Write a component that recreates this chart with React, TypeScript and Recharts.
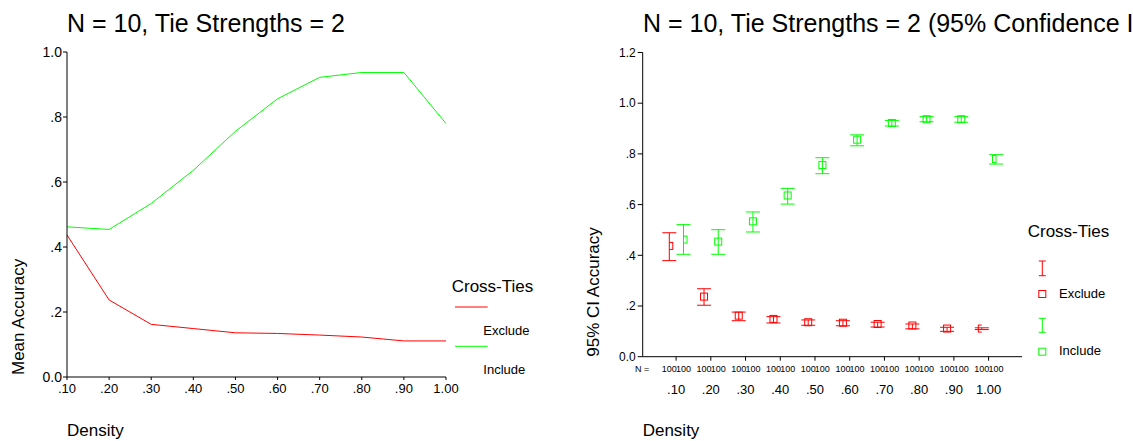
import React from 'react';
import { LineChart, Line, XAxis, YAxis, ScatterChart, Scatter, ErrorBar } from 'recharts';

const DENSITY = [0.1, 0.2, 0.3, 0.4, 0.5, 0.6, 0.7, 0.8, 0.9, 1.0];
const DENSITY_LABELS = ['.10', '.20', '.30', '.40', '.50', '.60', '.70', '.80', '.90', '1.00'];
const EXCLUDE_MEAN = [0.437, 0.237, 0.162, 0.149, 0.136, 0.134, 0.129, 0.123, 0.111, 0.111];
const INCLUDE_MEAN = [0.462, 0.454, 0.534, 0.636, 0.756, 0.856, 0.922, 0.937, 0.937, 0.78];
const EXCLUDE_LOW = [0.379, 0.203, 0.142, 0.133, 0.124, 0.122, 0.117, 0.11, 0.1, 0.107];
const EXCLUDE_HIGH = [0.489, 0.268, 0.176, 0.158, 0.145, 0.142, 0.136, 0.129, 0.116, 0.114];
const INCLUDE_LOW = [0.404, 0.404, 0.492, 0.602, 0.722, 0.832, 0.91, 0.927, 0.925, 0.76];
const INCLUDE_HIGH = [0.521, 0.501, 0.571, 0.664, 0.785, 0.875, 0.932, 0.947, 0.947, 0.797];
const N_EXCLUDE = [100, 100, 100, 100, 100, 100, 100, 100, 100, 100];
const N_INCLUDE = [100, 100, 100, 100, 100, 100, 100, 100, 100, 100];
const LEFT_Y_TICKS = [0, 0.2, 0.4, 0.6, 0.8, 1.0];
const RIGHT_Y_TICKS = [0, 0.2, 0.4, 0.6, 0.8, 1.0, 1.2];
const SERIES_NAMES = ['Exclude', 'Include'];
const LEGEND_TITLE = 'Cross-Ties';
const LEFT_TITLE = 'N = 10, Tie Strengths = 2';
const RIGHT_TITLE = 'N = 10, Tie Strengths = 2 (95% Confidence Interval)';

const RED = '#ff0000';
const GREEN = '#00ff00';
const FONT = '"Liberation Sans", Arial, Helvetica, sans-serif';

const lineRows = DENSITY_LABELS.map((d, i) => ({ d, exclude: EXCLUDE_MEAN[i], include: INCLUDE_MEAN[i] }));
const exRows = DENSITY.map((x, i) => ({
  x,
  y: EXCLUDE_MEAN[i],
  err: [EXCLUDE_MEAN[i] - EXCLUDE_LOW[i], EXCLUDE_HIGH[i] - EXCLUDE_MEAN[i]],
}));
const inRows = DENSITY.map((x, i) => ({
  x,
  y: INCLUDE_MEAN[i],
  err: [INCLUDE_MEAN[i] - INCLUDE_LOW[i], INCLUDE_HIGH[i] - INCLUDE_MEAN[i]],
}));

const fmtY = (v: number) => (v === 0 ? '0.0' : v >= 1 ? v.toFixed(1) : v.toFixed(1).replace(/^0/, ''));

const PAD = 33.4;
const EX_SHIFT = 6.8;
const IN_SHIFT = 7.4;

const squareShape = (color: string) => (props: any) => {
  const { cx, cy } = props;
  if (cx == null || cy == null) return <g />;
  return <rect x={cx - 3.5} y={cy - 3.5} width={7} height={7} fill="none" stroke={color} strokeWidth={1} />;
};

const RightXTick = (props: any) => {
  const { x, y, payload } = props;
  const i = DENSITY.indexOf(payload.value);
  if (i < 0) return <g />;
  return (
    <g fontFamily={FONT}>
      <text x={x - EX_SHIFT} y={y + 9} fontSize={9} textAnchor="middle" fill="#000">{N_EXCLUDE[i]}</text>
      <text x={x + IN_SHIFT} y={y + 9} fontSize={9} textAnchor="middle" fill="#000">{N_INCLUDE[i]}</text>
      <text x={x} y={y + 31.5} fontSize={13} textAnchor="middle" fill="#000">{DENSITY_LABELS[i]}</text>
    </g>
  );
};

const axisStroke = { stroke: '#000', strokeWidth: 1 };
const frameStroke = { stroke: '#444', strokeWidth: 1 };

export default function App() {
  return (
    <div style={{ position: 'absolute', left: 0, top: 0, width: 1133, height: 441, overflow: 'hidden', background: '#fff', fontFamily: FONT }}>
      <div style={{ position: 'absolute', left: 0, top: 0 }}>
        <LineChart width={560} height={441} data={lineRows} margin={{ top: 52, right: 114, bottom: 34, left: 7 }}>
          <XAxis xAxisId="b" dataKey="d" type="category" height={30} tickSize={3} tickMargin={4}
            axisLine={axisStroke} tickLine={axisStroke} tick={{ fontSize: 13, fill: '#000' }} interval={0} />
          <XAxis xAxisId="t" dataKey="d" orientation="top" height={0} tick={false} tickLine={false} axisLine={frameStroke} />
          <YAxis yAxisId="l" type="number" domain={[0, 1]} ticks={LEFT_Y_TICKS} tickFormatter={fmtY} width={60}
            tickSize={4} tickMargin={1} axisLine={axisStroke} tickLine={axisStroke} tick={{ fontSize: 14, fill: '#000' }} />
          <YAxis yAxisId="r" orientation="right" type="number" domain={[0, 1]} width={0} tick={false} tickLine={false} axisLine={frameStroke} />
          <Line xAxisId="b" yAxisId="l" type="linear" dataKey="exclude" stroke={RED} strokeWidth={1} dot={false} isAnimationActive={false} />
          <Line xAxisId="b" yAxisId="l" type="linear" dataKey="include" stroke={GREEN} strokeWidth={1} dot={false} isAnimationActive={false} />
        </LineChart>
      </div>
      <div style={{ position: 'absolute', left: 560, top: 0 }}>
        <ScatterChart width={573} height={441} margin={{ top: 52.5, right: 111, bottom: 54.3, left: 22.7 }}>
          <XAxis xAxisId="main" dataKey="x" type="number" domain={[0.1, 1.0]} ticks={DENSITY} allowDataOverflow
            padding={{ left: PAD, right: PAD }} height={30} tickSize={4} tickMargin={2}
            axisLine={axisStroke} tickLine={axisStroke} tick={<RightXTick />} interval={0} />
          <XAxis xAxisId="ex" dataKey="x" type="number" domain={[0.1, 1.0]} allowDataOverflow hide height={0}
            padding={{ left: PAD - EX_SHIFT, right: PAD + EX_SHIFT }} />
          <XAxis xAxisId="in" dataKey="x" type="number" domain={[0.1, 1.0]} allowDataOverflow hide height={0}
            padding={{ left: PAD + IN_SHIFT, right: PAD - IN_SHIFT }} />
          <XAxis xAxisId="top" dataKey="x" type="number" domain={[0.1, 1.0]} orientation="top" height={0}
            tick={false} tickLine={false} axisLine={frameStroke} />
          <YAxis yAxisId="y" dataKey="y" type="number" domain={[0, 1.2]} ticks={RIGHT_Y_TICKS} tickFormatter={fmtY}
            allowDataOverflow width={60} tickSize={5} tickMargin={2} axisLine={axisStroke} tickLine={axisStroke}
            tick={{ fontSize: 12, fill: '#000' }} />
          <YAxis yAxisId="r" orientation="right" type="number" domain={[0, 1.2]} width={0} tick={false} tickLine={false} axisLine={frameStroke} />
          <Scatter name={SERIES_NAMES[0]} data={exRows} xAxisId="ex" yAxisId="y" dataKey="y" shape={squareShape(RED)} isAnimationActive={false}>
            <ErrorBar dataKey="err" direction="y" width={7} stroke={RED} strokeWidth={1} isAnimationActive={false} />
          </Scatter>
          <Scatter name={SERIES_NAMES[1]} data={inRows} xAxisId="in" yAxisId="y" dataKey="y" shape={squareShape(GREEN)} isAnimationActive={false}>
            <ErrorBar dataKey="err" direction="y" width={7} stroke={GREEN} strokeWidth={1} isAnimationActive={false} />
          </Scatter>
        </ScatterChart>
      </div>
      <svg width={1133} height={441} style={{ position: 'absolute', left: 0, top: 0, pointerEvents: 'none' }} fontFamily={FONT}>
        <text x={67} y={31.5} fontSize={25} fill="#000">{LEFT_TITLE}</text>
        <text x={643} y={31.5} fontSize={25} fill="#000">{RIGHT_TITLE}</text>
        <text transform="translate(23.5,375) rotate(-90)" fontSize={17} fill="#000">Mean Accuracy</text>
        <text transform="translate(599,356.7) rotate(-90)" fontSize={17} fill="#000">95% CI Accuracy</text>
        <text x={67} y={435.5} fontSize={17} fill="#000">Density</text>
        <text x={642.7} y={435.5} fontSize={17} fill="#000">Density</text>
        <text x={635} y={371.5} fontSize={9} fill="#000">N =</text>
        {/* left legend */}
        <text x={451.7} y={292.3} fontSize={17} fill="#000">{LEGEND_TITLE}</text>
        <line x1={455} x2={487.7} y1={307} y2={307} stroke={RED} strokeWidth={1} />
        <text x={483.3} y={335.3} fontSize={13} fill="#000">{SERIES_NAMES[0]}</text>
        <line x1={455} x2={487.7} y1={346.3} y2={346.3} stroke={GREEN} strokeWidth={1} />
        <text x={483.3} y={374} fontSize={13} fill="#000">{SERIES_NAMES[1]}</text>
        {/* right legend */}
        <text x={1027.7} y={237} fontSize={17} fill="#000">{LEGEND_TITLE}</text>
        <g stroke={RED} strokeWidth={1}>
          <line x1={1042.3} x2={1042.3} y1={261} y2={275.7} />
          <line x1={1038.8} x2={1045.8} y1={261} y2={261} />
          <line x1={1038.8} x2={1045.8} y1={275.7} y2={275.7} />
          <rect x={1038.8} y={290.5} width={7} height={7} fill="none" />
        </g>
        <text x={1059} y={298.3} fontSize={13} fill="#000">{SERIES_NAMES[0]}</text>
        <g stroke={GREEN} strokeWidth={1}>
          <line x1={1042.3} x2={1042.3} y1={318.3} y2={332.3} />
          <line x1={1038.8} x2={1045.8} y1={318.3} y2={318.3} />
          <line x1={1038.8} x2={1045.8} y1={332.3} y2={332.3} />
          <rect x={1038.8} y={348.2} width={7} height={7} fill="none" />
        </g>
        <text x={1059} y={355} fontSize={13} fill="#000">{SERIES_NAMES[1]}</text>
      </svg>
    </div>
  );
}
